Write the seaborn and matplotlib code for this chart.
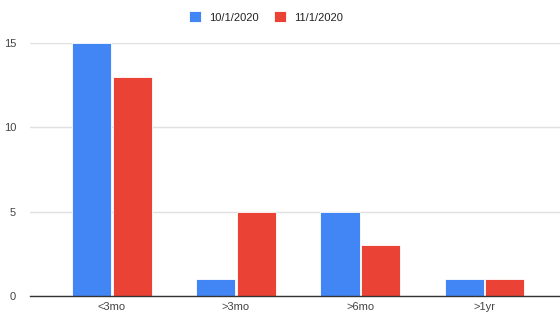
import pandas as pd
import seaborn as sns
import matplotlib.pyplot as plt

# 데이터
categories = ["<3mo", ">3mo", ">6mo", ">1yr"]
oct_values = [15, 1, 5, 1]
nov_values = [13, 5, 3, 1]
series_names = ["10/1/2020", "11/1/2020"]

df = pd.DataFrame({
    "age": categories * 2,
    "count": oct_values + nov_values,
    "date": [series_names[0]] * 4 + [series_names[1]] * 4,
})

sns.set_style("white")
plt.rcParams['font.family'] = ['Arial', 'Liberation Sans', 'DejaVu Sans']

fig = plt.figure(figsize=(5.6, 3.14), dpi=100)
ax = fig.add_axes([0.0536, 0.0573, 0.9464, 0.8057])

sns.barplot(data=df, x="age", y="count", hue="date",
            palette=["#4285F4", "#EA4335"], saturation=1, width=0.65, gap=0.03,
            edgecolor="white", linewidth=0.6, ax=ax, legend=True)

ax.set_ylim(0, 15)
ax.set_xlim(-0.66, 3.61)
ax.set_yticks([0, 5, 10, 15])
ax.set_xlabel("")
ax.set_ylabel("")
ax.grid(axis="y", color="#e0e0e0", linewidth=1)
ax.set_axisbelow(True)
for s in ["top", "right", "left"]:
    ax.spines[s].set_visible(False)
ax.spines["bottom"].set_color("#333333")
ax.spines["bottom"].set_linewidth(1)
ax.tick_params(axis="both", length=0, labelsize=8, labelcolor="#444444")
ax.tick_params(axis="y", pad=10)
ax.tick_params(axis="x", pad=4)

handles, labels = ax.get_legend_handles_labels()
ax.get_legend().remove()
fig.legend(handles, labels, loc="center", bbox_to_anchor=(0.475, 0.946), ncol=2,
           frameon=False, fontsize=8, handlelength=1.1, handleheight=1.1,
           handletextpad=0.7, columnspacing=1.4, labelcolor="#222222")

fig.savefig("out.png", dpi=100)
